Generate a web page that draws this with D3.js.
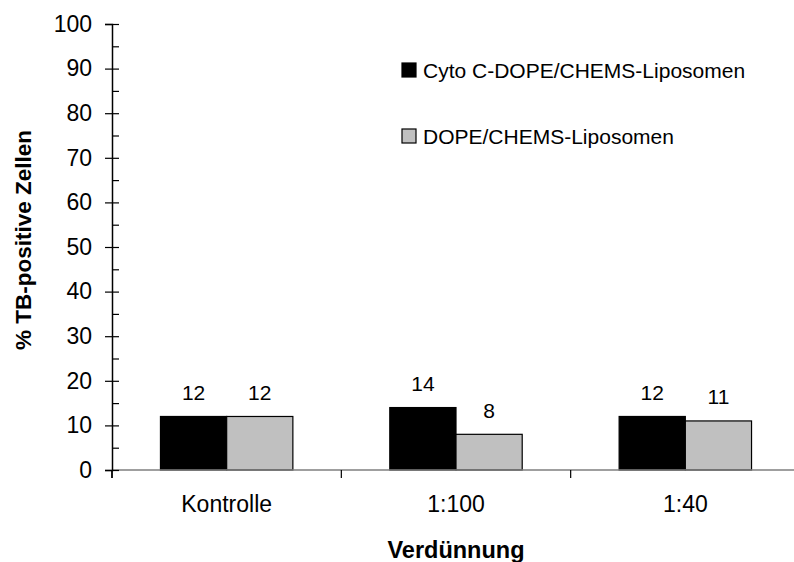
<!DOCTYPE html>
<html>
<head>
<meta charset="utf-8">
<script src="https://cdn.jsdelivr.net/npm/d3@7"></script>
<style>
  html, body { margin: 0; padding: 0; background: #fff; }
  svg { display: block; font-family: "Liberation Sans", Arial, sans-serif; }
</style>
</head>
<body>
<svg id="chart" width="794" height="562"></svg>
<script>
// Categories (dilution) and series
const categories = ["Kontrolle", "1:100", "1:40"];
const seriesNames = ["Cyto C-DOPE/CHEMS-Liposomen", "DOPE/CHEMS-Liposomen"];
const seriesCyto = [12, 14, 12];
const seriesDope = [12, 8, 11];
const seriesColors = ["#000000", "#c0c0c0"];
const yTicks = [0, 10, 20, 30, 40, 50, 60, 70, 80, 90, 100];
const yMinorTicks = [0, 5, 10, 15, 20, 25, 30, 35, 40, 45, 50, 55, 60, 65, 70, 75, 80, 85, 90, 95, 100];
const yTitle = "% TB-positive Zellen";
const xTitle = "Verdünnung";

const seriesValues = [seriesCyto, seriesDope];
const rows = categories.map((c, i) => ({
  cat: c,
  vals: seriesNames.map((s, j) => ({ series: s, idx: j, value: seriesValues[j][i] }))
}));

const svg = d3.select("#chart");
const FONT = "Liberation Sans, Arial, sans-serif";

const x0 = 112, x1 = 800, yTop = 24, yBase = 470;

const x = d3.scaleBand().domain(categories).range([x0, x1]).paddingInner(0).paddingOuter(0);
const xs = d3.scaleBand().domain(seriesNames).range([0, x.bandwidth()]).paddingInner(0).paddingOuter(0.732);
const y = d3.scaleLinear().domain([0, 100]).range([yBase, yTop]);

// Bars
const groups = svg.append("g").selectAll("g")
  .data(rows).join("g")
  .attr("transform", d => `translate(${x(d.cat)},0)`);

groups.selectAll("rect")
  .data(d => d.vals).join("rect")
  .attr("x", d => xs(d.series))
  .attr("y", d => y(d.value))
  .attr("width", xs.bandwidth())
  .attr("height", d => y(0) - y(d.value))
  .attr("fill", d => seriesColors[d.idx])
  .attr("stroke", "#000")
  .attr("stroke-width", 1.2);

// Value labels
groups.selectAll("text.val")
  .data(d => d.vals).join("text")
  .attr("class", "val")
  .attr("x", d => xs(d.series) + xs.bandwidth() / 2)
  .attr("y", d => y(d.value) - 16.5)
  .attr("text-anchor", "middle")
  .attr("font-size", 21)
  .attr("fill", "#000")
  .text(d => d.value);

// X axis baseline
svg.append("line")
  .attr("x1", x0).attr("x2", x1)
  .attr("y1", y(0)).attr("y2", y(0))
  .attr("stroke", "#7f7f7f").attr("stroke-width", 1.5);

// Category separator ticks
const seps = categories.map(c => x(c)).concat([x(categories[categories.length - 1]) + x.bandwidth()]);
svg.append("g").selectAll("line")
  .data(seps).join("line")
  .attr("x1", d => d).attr("x2", d => d)
  .attr("y1", y(0)).attr("y2", y(0) + 8)
  .attr("stroke", "#000").attr("stroke-width", 1.2);

// Category labels
const xAxis = svg.append("g")
  .attr("transform", `translate(0,${yBase})`)
  .call(d3.axisBottom(x).tickSize(0).tickPadding(26));
xAxis.select(".domain").remove();
xAxis.selectAll("text").attr("font-size", 23).attr("font-family", FONT).attr("fill", "#000");

// Y axis: labelled major ticks on the left, major + minor ticks on the right
const yAxisL = svg.append("g")
  .attr("transform", `translate(${x0},0)`)
  .call(d3.axisLeft(y).tickValues(yTicks).tickSize(7).tickPadding(13).tickFormat(d3.format("d")));
yAxisL.select(".domain").attr("stroke", "#000").attr("stroke-width", 1.5);
yAxisL.selectAll("line").attr("stroke", "#000").attr("stroke-width", 1.2);
yAxisL.selectAll("text").attr("font-size", 23).attr("font-family", FONT).attr("fill", "#000");

const yAxisR = svg.append("g")
  .attr("transform", `translate(${x0},0)`)
  .call(d3.axisRight(y).tickValues(yMinorTicks).tickSize(7).tickFormat(""));
yAxisR.select(".domain").remove();
yAxisR.selectAll("line").attr("stroke", "#000").attr("stroke-width", 1.2);

// Y axis extension below the baseline
svg.append("line")
  .attr("x1", x0).attr("x2", x0)
  .attr("y1", y(0)).attr("y2", y(0) + 8)
  .attr("stroke", "#000").attr("stroke-width", 1.5);

// Axis titles
svg.append("text")
  .attr("transform", `translate(31,240) rotate(-90)`)
  .attr("text-anchor", "middle")
  .attr("font-size", 22.5)
  .attr("font-weight", "bold")
  .text(yTitle);

svg.append("text")
  .attr("x", (x0 + x1) / 2)
  .attr("y", 558)
  .attr("text-anchor", "middle")
  .attr("font-size", 23.5)
  .attr("font-weight", "bold")
  .text(xTitle);

// Legend
const legend = svg.append("g").attr("transform", "translate(402,63)");
const legendItems = legend.selectAll("g")
  .data(seriesNames).join("g")
  .attr("transform", (d, i) => `translate(0,${i * 66})`);
legendItems.append("rect")
  .attr("width", 14).attr("height", 14)
  .attr("fill", (d, i) => seriesColors[i])
  .attr("stroke", "#000").attr("stroke-width", 1.2);
legendItems.append("text")
  .attr("x", 21).attr("y", 15)
  .attr("font-size", 21)
  .text(d => d);
</script>
</body>
</html>
